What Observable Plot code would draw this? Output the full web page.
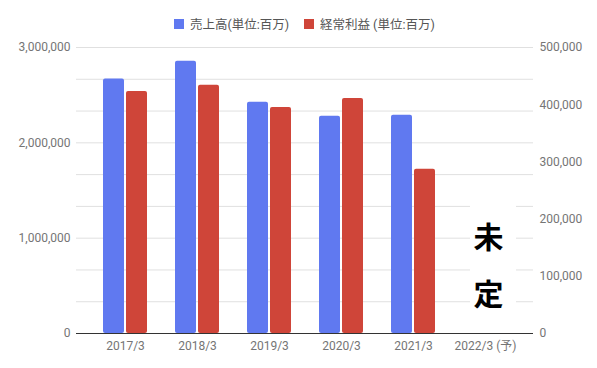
<!DOCTYPE html>
<html>
<head>
<meta charset="utf-8">
<script src="https://cdn.jsdelivr.net/npm/d3@7"></script>
<script src="https://cdn.jsdelivr.net/npm/@observablehq/plot@0.6"></script>
<style>
  html, body { margin: 0; padding: 0; background: white; }
  #wrap { position: relative; width: 597px; height: 368px; overflow: hidden; }
  #legend { position: absolute; top: 0; left: 0; width: 597px; height: 40px;
    font-family: Roboto, "Noto Sans CJK JP", sans-serif; font-size: 12.5px; color: #555; }
  .item { position: absolute; top: 14px; display: flex; align-items: center; white-space: nowrap; }
  .sw { width: 10px; height: 10px; margin-right: 6px; }
  svg { display: block; }
</style>
</head>
<body>
<div id="wrap">
  <div id="chart"></div>
  <div id="legend"></div>
</div>
<script>
const categories = ["2017/3", "2018/3", "2019/3", "2020/3", "2021/3", "2022/3 (予)"];
const sales = [2670000, 2855000, 2425000, 2278000, 2290000, null];
const profit = [423000, 434000, 395000, 411000, 287000, null];
const seriesNames = ["売上高(単位:百万)", "経常利益 (単位:百万)"];
const seriesColors = ["#6079f0", "#cf4539"];
const leftTicks = [0, 1000000, 2000000, 3000000];
const rightTicks = [0, 100000, 200000, 300000, 400000, 500000];
const gridTicks = [0, 333333, 666667, 1000000, 1333333, 1666667, 2000000, 2333333, 2666667, 3000000];
const noteCategory = "2022/3 (予)";
const noteChars = ["未", "定"];
const noteValues = [1000000, 400000];
const noteBoxRange = [80000, 1450000];

const profitToLeft = 6; // right axis max 500,000 maps to left max 3,000,000

const table = categories.map((c, i) => ({cat: c, sales: sales[i], profit: profit[i]}));
const notes = noteChars.map((ch, i) => ({ch, y: noteValues[i]}));
const fmt = d3.format(",");

const chart = Plot.plot({
  width: 597,
  height: 368,
  marginTop: 47,
  marginBottom: 35,
  marginLeft: 76,
  marginRight: 64,
  style: {fontFamily: "Roboto, 'Noto Sans CJK JP', sans-serif", fontSize: "12px", color: "#757575", background: "white"},
  x: {type: "band", domain: categories, paddingInner: 0.389, paddingOuter: 0.368},
  y: {domain: [0, 3000000]},
  marks: [
    Plot.ruleY(gridTicks, {stroke: "#e0e0e0"}),
    Plot.rect([{cat: noteCategory, y1: noteBoxRange[0], y2: noteBoxRange[1]}],
      {x: "cat", y1: "y1", y2: "y2", fill: "white", insetLeft: 7, insetRight: -9}),
    Plot.rectY(table.filter(d => d.sales != null), {x: "cat", y: "sales", fill: seriesColors[0], insetRight: 23, rx: 2}),
    Plot.rectY(table.filter(d => d.profit != null), {x: "cat", y: d => d.profit * profitToLeft, fill: seriesColors[1], insetLeft: 23, rx: 2}),
    Plot.ruleY([0], {stroke: "#333"}),
    Plot.axisY({anchor: "left", ticks: leftTicks, tickSize: 0, tickPadding: 6, tickFormat: fmt, label: null}),
    Plot.axisY({anchor: "right", ticks: rightTicks.map(v => v * profitToLeft), tickSize: 0, tickPadding: 6,
      tickFormat: d => fmt(Math.round(d / profitToLeft)), label: null}),
    Plot.axisX({tickSize: 0, tickPadding: 8, label: null}),
    Plot.text(notes, {x: () => noteCategory, y: "y", text: "ch", dx: 3, fontSize: 30, fontWeight: "bold", fill: "black",
      fontFamily: "'Noto Sans CJK JP', sans-serif"})
  ]
});
document.getElementById("chart").appendChild(chart);

const legend = document.getElementById("legend");
const lefts = [174, 304];
seriesNames.forEach((name, i) => {
  const it = document.createElement("div");
  it.className = "item";
  it.style.left = lefts[i] + "px";
  it.innerHTML = `<span class="sw" style="background:${seriesColors[i]}"></span><span>${name}</span>`;
  legend.appendChild(it);
});
</script>
</body>
</html>
